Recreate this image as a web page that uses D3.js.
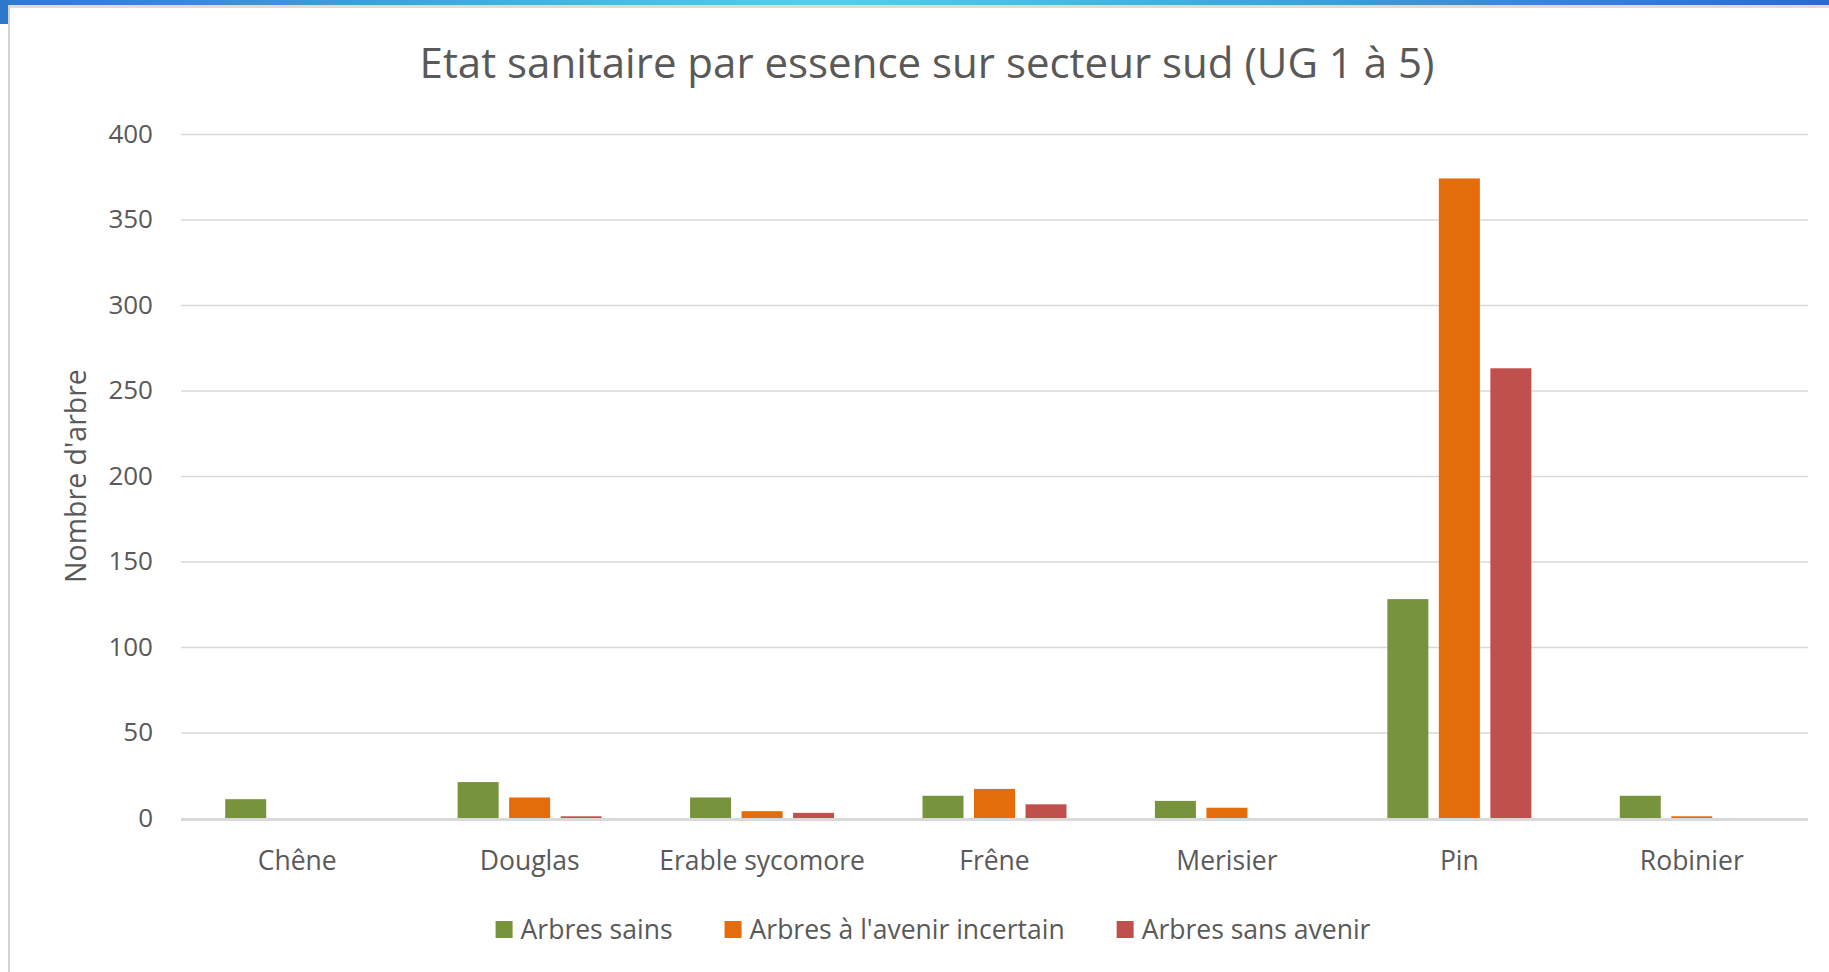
<!DOCTYPE html>
<html>
  <head>
    <meta charset="utf-8" />
    <title>Etat sanitaire par essence</title>
    <script src="https://d3js.org/d3.v7.min.js"></script>
    <style>
      html, body {
        margin: 0;
        padding: 0;
        background: #fff;
        overflow: hidden;
      }
      svg {
        display: block;
        font-family: "Open Sans", sans-serif;
      }
    </style>
  </head>
  <body>
    <svg width="1829" height="972"></svg>

    <script>
      // data
      const categories = ["Chêne", "Douglas", "Erable sycomore", "Frêne", "Merisier", "Pin", "Robinier"];
      const seriesNames = ["Arbres sains", "Arbres à l'avenir incertain", "Arbres sans avenir"];
      const sains = [11, 21, 12, 13, 10, 128, 13];
      const incertain = [0, 12, 4, 17, 6, 374, 1];
      const sansAvenir = [0, 1, 3, 8, 0, 263, 0];
      const yTicks = [0, 50, 100, 150, 200, 250, 300, 350, 400];
      const colors = ["#77933c", "#e46c0a", "#c0504d"];

      const seriesValues = [sains, incertain, sansAvenir];
      const table = categories.map((c, i) => ({
        cat: c,
        values: seriesNames.map((s, j) => ({ key: s, value: seriesValues[j][i] }))
      }));

      const svg = d3.select("svg");
      const width = +svg.attr("width");
      const height = +svg.attr("height");
      const textColor = "#595959";

      // window frame bits
      const grad = svg.append("defs").append("linearGradient").attr("id", "topbar");
      grad.append("stop").attr("offset", "0%").attr("stop-color", "#2f78cc");
      grad.append("stop").attr("offset", "45%").attr("stop-color", "#5ccbea");
      grad.append("stop").attr("offset", "100%").attr("stop-color", "#2a6cc6");
      svg.append("rect").attr("x", 0).attr("y", 0).attr("width", width).attr("height", 5).attr("fill", "url(#topbar)");
      svg.append("rect").attr("x", 8).attr("y", 5).attr("width", width - 8).attr("height", 3).attr("fill", "#dcdcdc");
      svg.append("rect").attr("x", 0).attr("y", 0).attr("width", 8).attr("height", 24).attr("fill", "#2f78cc");
      svg.append("rect").attr("x", 8).attr("y", 5).attr("width", 2).attr("height", height).attr("fill", "#d4d4d4");

      const margin = { top: 134, right: 21, bottom: 154, left: 181 };
      const innerWidth = width - margin.left - margin.right;
      const innerHeight = height - margin.top - margin.bottom;

      const g = svg.append("g").attr("transform", `translate(${margin.left},${margin.top})`);

      const x0 = d3.scaleBand().domain(categories).range([0, innerWidth]).padding(0);
      const groupW = 144;
      const x1 = d3.scaleBand().domain(seriesNames)
        .range([(x0.bandwidth() - groupW) / 2, (x0.bandwidth() + groupW) / 2])
        .paddingInner(0.204);
      const y = d3.scaleLinear().domain([0, 400]).range([innerHeight, 0]);
      const color = d3.scaleOrdinal().domain(seriesNames).range(colors);

      // gridlines + y labels
      const yAxis = g.append("g")
        .call(d3.axisLeft(y).tickValues(yTicks).tickSize(-innerWidth).tickPadding(28));
      yAxis.select(".domain").remove();
      yAxis.selectAll(".tick line")
        .attr("stroke", "#d9d9d9")
        .attr("stroke-width", 1.6);
      yAxis.selectAll(".tick")
        .filter(d => d === 0)
        .select("line").attr("stroke-width", 0);
      yAxis.selectAll(".tick text")
        .attr("fill", textColor)
        .style("font-size", "26px")
        .style("font-family", "'Open Sans', sans-serif");

      // bars
      const groups = g.selectAll(".grp").data(table).enter().append("g")
        .attr("transform", d => `translate(${x0(d.cat)},0)`);
      groups.selectAll("rect").data(d => d.values).enter().append("rect")
        .attr("x", d => x1(d.key))
        .attr("width", x1.bandwidth())
        .attr("y", d => y(d.value))
        .attr("height", d => innerHeight - y(d.value))
        .attr("fill", d => color(d.key));

      // horizontal axis line, just under the bars
      g.append("line")
        .attr("x1", 0).attr("x2", innerWidth)
        .attr("y1", y(0) + 1.5).attr("y2", y(0) + 1.5)
        .attr("stroke", "#d9d9d9").attr("stroke-width", 3);

      // category labels
      const xAxis = g.append("g").attr("transform", `translate(0,${innerHeight})`)
        .call(d3.axisBottom(x0).tickSize(0).tickPadding(33));
      xAxis.select(".domain").remove();
      xAxis.selectAll(".tick text")
        .attr("fill", textColor)
        .style("font-size", "26.5px")
        .style("font-family", "'Open Sans', sans-serif");

      // title
      svg.append("text")
        .attr("x", 927).attr("y", 78)
        .attr("text-anchor", "middle")
        .attr("fill", textColor)
        .style("font-size", "42px")
        .text("Etat sanitaire par essence sur secteur sud (UG 1 à 5)");

      // y axis title
      svg.append("text")
        .attr("transform", `translate(86,${margin.top + innerHeight / 2}) rotate(-90)`)
        .attr("text-anchor", "middle")
        .attr("fill", textColor)
        .style("font-size", "28.5px")
        .text("Nombre d'arbre");

      // legend
      const legend = svg.append("g");
      let lx = 0;
      seriesNames.forEach((s, i) => {
        const item = legend.append("g").attr("transform", `translate(${lx},0)`);
        item.append("rect").attr("x", 0).attr("y", -8).attr("width", 17).attr("height", 17).attr("fill", colors[i]);
        const t = item.append("text").attr("x", 25).attr("y", 10)
          .attr("fill", textColor).style("font-size", "26.5px").text(s);
        lx += 25 + t.node().getComputedTextLength() + 52;
      });
      const legendW = lx - 52;
      legend.attr("transform", `translate(${933 - legendW / 2},929)`);
    </script>
  </body>
</html>
